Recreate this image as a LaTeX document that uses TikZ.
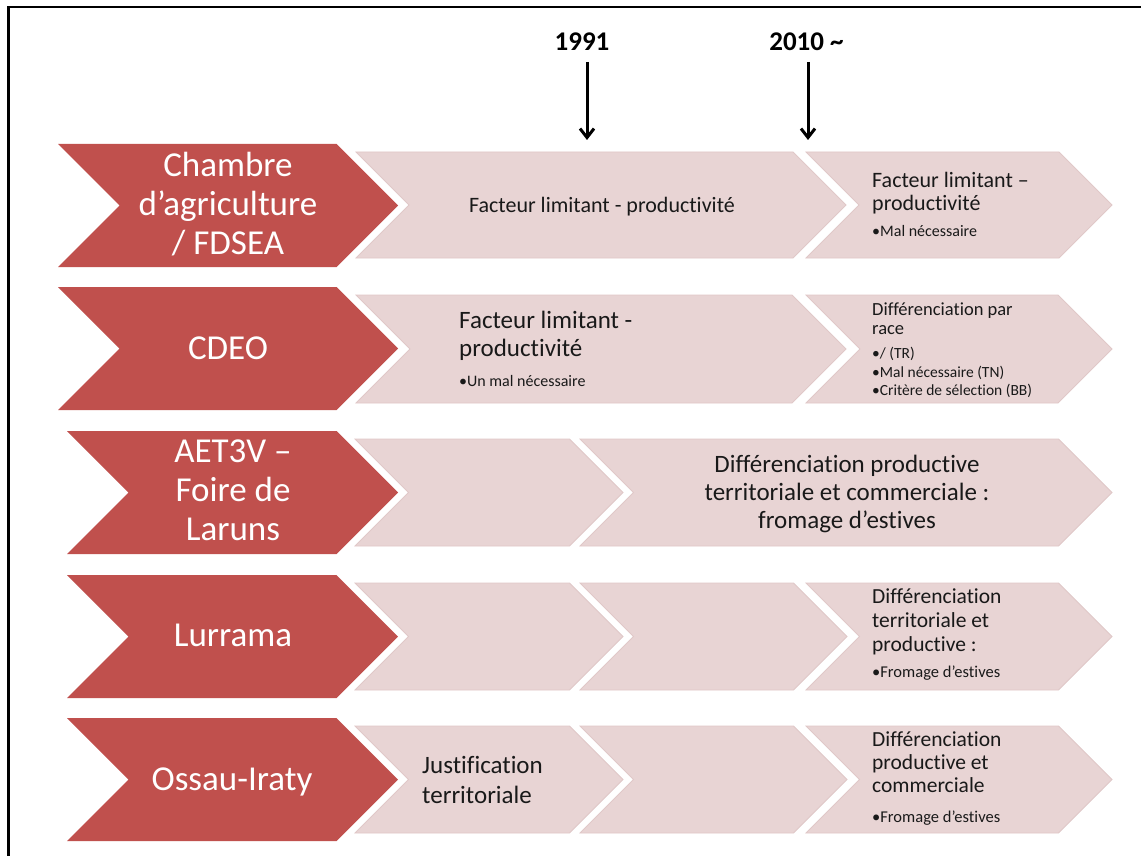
\documentclass[tikz,border=0pt]{standalone}
\usepackage{fontspec}
\setmainfont{Carlito}[Ligatures={NoCommon}]
\usetikzlibrary{arrows.meta}
\definecolor{chevred}{RGB}{192,80,77}
\definecolor{chevpink}{RGB}{232,212,212}
\definecolor{chevedge}{RGB}{224,200,200}
\newcommand\myfs[2]{\fontsize{#1pt}{#2pt}\selectfont}
% style, left x, tip x, top y, bottom y
\newcommand\mychev[5]{%
  \path[#1] (#2,#4) -- ({#3-(#5-#4)/2},#4) -- (#3,{(#4+#5)/2}) -- ({#3-(#5-#4)/2},#5) -- (#2,#5) -- ({#2+(#5-#4)/2},{(#4+#5)/2}) -- cycle;}
\tikzset{
  redchev/.style={fill=chevred},
  pinkchev/.style={fill=chevpink, draw=chevedge, line width=0.8pt},
  redtxt/.style={text=white, align=center, inner sep=0pt, font=\myfs{35}{39}},
  lbl/.style={text=black!90, inner sep=0pt, anchor=west, align=left},
  year/.style={inner sep=0pt, font=\bfseries\myfs{27}{30}},
  yarrow/.style={line width=3pt, -{Straight Barb[length=9pt,width=14pt]}},
}
\begin{document}
\begin{tikzpicture}[x=1pt,y=-1pt]
\useasboundingbox (0,0) rectangle (1141,856);
\fill[white] (0,0) rectangle (1141,856);
\draw[line width=2.5pt] (8.5,860) -- (8.5,7) -- (1145,7);

% years and arrows
\node[year] (y1991) at (582,41.5) {1991};
\node[year] (y2010) at (806.5,41.5) {2010 \char"7E};
\coordinate (a1s) at (587,62);
\coordinate (a1e) at (587,140);
\coordinate (a2s) at (808,62);
\coordinate (a2e) at (808,140);
\draw[yarrow] (a1s) -- (a1e);
\draw[yarrow] (a2s) -- (a2e);

% row 1
\mychev{redchev}{58}{398}{144}{267}
\mychev{pinkchev}{356}{846}{152}{258}
\mychev{pinkchev}{806}{1112}{152}{258}
% row 2
\mychev{redchev}{58}{398}{287}{410}
\mychev{pinkchev}{356}{846}{295}{403}
\mychev{pinkchev}{806}{1112}{295}{403}
% row 3
\mychev{redchev}{67}{398}{431}{554}
\mychev{pinkchev}{355}{623}{439}{546}
\mychev{pinkchev}{580}{1112}{439}{546}
% row 4
\mychev{redchev}{67}{398}{575}{698}
\mychev{pinkchev}{355}{623}{583}{690}
\mychev{pinkchev}{580}{847}{583}{690}
\mychev{pinkchev}{806}{1112}{583}{690}
% row 5
\mychev{redchev}{67}{398}{718}{841}
\mychev{pinkchev}{355}{623}{726}{833}
\mychev{pinkchev}{580}{847}{726}{833}
\mychev{pinkchev}{806}{1112}{726}{833}

% red labels
\node[redtxt] (r1) at (228,204) {Chambre\\d’agriculture\\/ FDSEA};
\node[redtxt] (r2) at (228,348) {CDEO};
\node[redtxt] (r3) at (233,490) {AET3V –\\Foire de\\Laruns};
\node[redtxt] (r4) at (233,635) {Lurrama};
\node[redtxt] (r5) at (232,782) {Ossau-Iraty};

% row 1 texts
\node[lbl, anchor=center, font=\myfs{22}{25}] (t1a) at (602,207) {Facteur limitant - productivité};
\node[lbl, font=\myfs{22}{23}] (t1b) at (872,193.5) {Facteur limitant –\\productivité};
\node[lbl, font=\myfs{16}{19}] (t1c) at (872,231.5) {•Mal nécessaire};

% row 2 texts
\node[lbl, font=\myfs{25}{28}] (t2a) at (459,336) {Facteur limitant -\\productivité};
\node[lbl, font=\myfs{16}{19}] (t2b) at (459,381) {•Un mal nécessaire};
\node[lbl, font=\myfs{18.5}{19}] (t2c) at (872,318.5) {Différenciation par\\race};
\node[lbl, font=\myfs{15.5}{18.5}] (t2d) at (872,372.5) {•/ (TR)\\•Mal nécessaire (TN)\\•Critère de sélection (BB)};

% row 3 text
\node[lbl, anchor=center, align=center, font=\myfs{25}{28}] (t3) at (847,494) {Différenciation productive\\territoriale et commerciale :\\fromage d’estives};

% row 4 texts
\node[lbl, font=\myfs{21.5}{24}] (t4a) at (872,621.5) {Différenciation\\territoriale et\\productive :};
\node[lbl, font=\myfs{16.5}{19}] (t4b) at (872,673) {•Fromage d’estives};

% row 5 texts
\node[lbl, font=\myfs{25}{30}] (t5a) at (422,779.5) {Justification\\territoriale};
\node[lbl, font=\myfs{21.5}{23}] (t5b) at (872,762) {Différenciation\\productive et\\commerciale};
\node[lbl, font=\myfs{16.5}{19}] (t5c) at (872,818) {•Fromage d’estives};
\end{tikzpicture}
\end{document}
